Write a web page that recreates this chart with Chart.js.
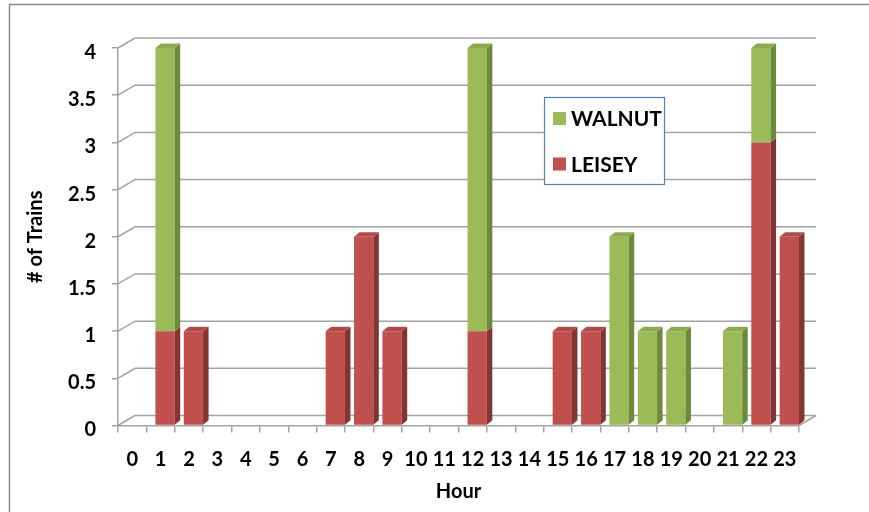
<!DOCTYPE html>
<html>
<head>
<meta charset="utf-8">
<script src="https://cdn.jsdelivr.net/npm/chart.js@4"></script>
<style>
  body { margin: 0; background: #fff; }
  #wrap { width: 869px; height: 512px; }
</style>
</head>
<body>
<div id="wrap"><canvas id="trains-chart" width="869" height="512"></canvas></div>
<script>
// data
const hours = ['0', '1', '2', '3', '4', '5', '6', '7', '8', '9', '10', '11',
  '12', '13', '14', '15', '16', '17', '18', '19', '20', '21', '22', '23'];
const leisey = [0, 1, 1, 0, 0, 0, 0, 1, 2, 1, 0, 0, 1, 0, 0, 1, 1, 0, 0, 0, 0, 0, 3, 2];
const walnut = [0, 3, 0, 0, 0, 0, 0, 0, 0, 0, 0, 0, 3, 0, 0, 0, 0, 2, 1, 1, 0, 1, 1, 0];
const yMax = 4;
const yStep = 0.5;

const GRID = '#a3a3a3';
const FONT = 'Lato';

// colours: front, side, top
const shades = {
  LEISEY: { front: '#c0504d', side: '#833533', top: '#b04a47' },
  WALNUT: { front: '#9bbb59', side: '#6b8a3a', top: '#8cab50' }
};

// Excel style 3D look: back wall grid + bar sides / tops
const threeD = {
  id: 'threeD',
  beforeDatasetsDraw(chart) {
    const { ctx, chartArea: a, scales: { y } } = chart;
    const bx = 17, by = -10;
    ctx.save();
    ctx.strokeStyle = GRID;
    ctx.lineWidth = 1.5;
    y.ticks.forEach(t => {
      const py = y.getPixelForValue(t.value);
      ctx.beginPath();
      ctx.moveTo(a.left, py);
      ctx.lineTo(a.left + bx, py + by);
      ctx.lineTo(a.right + bx, py + by);
      ctx.stroke();
    });
    ctx.beginPath();
    ctx.moveTo(a.right, a.bottom);
    ctx.lineTo(a.right + bx, a.bottom + by);
    ctx.stroke();
    ctx.restore();

    // bars sit a bit right of the category centre
    ctx.save();
    ctx.translate(4.5, 0);
  },
  afterDatasetsDraw(chart) {
    const ctx = chart.ctx;
    const dx = 5.5, dy = -4.5;
    const metas = chart.getSortedVisibleDatasetMetas();
    metas.forEach((meta, mi) => {
      const ds = chart.data.datasets[meta.index];
      const c = shades[ds.label];
      meta.data.forEach((bar, i) => {
        if (!ds.data[i]) return;
        const p = bar.getProps(['x', 'y', 'base', 'width'], true);
        const l = p.x - p.width / 2, r = p.x + p.width / 2;
        const top = Math.min(p.y, p.base), bot = Math.max(p.y, p.base);
        ctx.fillStyle = c.side;
        ctx.beginPath();
        ctx.moveTo(r, bot);
        ctx.lineTo(r, top);
        ctx.lineTo(r + dx, top + dy);
        ctx.lineTo(r + dx, bot + dy);
        ctx.closePath();
        ctx.fill();
        const above = metas.slice(mi + 1).some(m => chart.data.datasets[m.index].data[i]);
        if (!above) {
          ctx.fillStyle = c.top;
          ctx.beginPath();
          ctx.moveTo(l, top);
          ctx.lineTo(l + dx, top + dy);
          ctx.lineTo(r + dx, top + dy);
          ctx.lineTo(r, top);
          ctx.closePath();
          ctx.fill();
        }
      });
    });
    ctx.restore();
  }
};

// outer frame and boxed legend
const frame = {
  id: 'frame',
  beforeDraw(chart) {
    const ctx = chart.ctx;
    ctx.save();
    ctx.strokeStyle = '#8c8c8c';
    ctx.lineWidth = 1.5;
    ctx.strokeRect(9.5, 4.5, 900, 600);
    ctx.restore();
  },
  afterDraw(chart) {
    const ctx = chart.ctx;
    ctx.save();
    ctx.fillStyle = '#fff';
    ctx.fillRect(544, 97, 120, 87);
    ctx.strokeStyle = '#4f81bd';
    ctx.lineWidth = 1.2;
    ctx.strokeRect(544.5, 97.5, 120, 87);
    const items = chart.data.datasets.slice().reverse();
    ctx.font = 'bold 21px ' + FONT;
    ctx.textBaseline = 'middle';
    items.forEach((ds, k) => {
      const cy = 118.5 + k * 45.5;
      ctx.fillStyle = shades[ds.label].front;
      ctx.fillRect(553, cy - 6.5, 13, 13);
      ctx.fillStyle = '#000';
      ctx.fillText(ds.label, 571, cy + 1);
    });
    ctx.restore();
  }
};

const tickFont = { family: FONT, size: 20, weight: 'bold' };

new Chart(document.getElementById('trains-chart'), {
  type: 'bar',
  data: {
    labels: hours,
    datasets: [
      { label: 'LEISEY', data: leisey, backgroundColor: shades.LEISEY.front, clip: false },
      { label: 'WALNUT', data: walnut, backgroundColor: shades.WALNUT.front, clip: false }
    ]
  },
  options: {
    responsive: false,
    devicePixelRatio: 1,
    animation: false,
    layout: { padding: { left: 0, top: 48, right: 70, bottom: 0 } },
    datasets: { bar: { barPercentage: 0.68, categoryPercentage: 1 } },
    plugins: { legend: { display: false }, tooltip: { enabled: false } },
    scales: {
      x: {
        stacked: true,
        afterFit: s => { s.height = 512 - 48 - 377.5; },
        grid: { drawOnChartArea: false, tickLength: 7, color: GRID, lineWidth: 1.5 },
        border: { color: GRID, width: 1.5 },
        ticks: { color: '#000', padding: 15, maxRotation: 0, autoSkip: false, font: tickFont },
        title: { display: true, text: 'Hour', color: '#000', padding: { bottom: 8 }, font: tickFont }
      },
      y: {
        stacked: true,
        min: 0,
        max: yMax,
        afterFit: s => { s.width = 118; },
        grid: { drawOnChartArea: false, tickLength: 6, color: GRID, lineWidth: 1.5 },
        border: { color: GRID, width: 1.5 },
        ticks: { stepSize: yStep, color: '#000', padding: 16, labelOffset: 4.5, font: tickFont,
          callback: v => String(v) },
        title: { display: true, text: '# of Trains', color: '#000', padding: { top: 24 }, font: tickFont }
      }
    }
  },
  plugins: [threeD, frame]
});
</script>
</body>
</html>
